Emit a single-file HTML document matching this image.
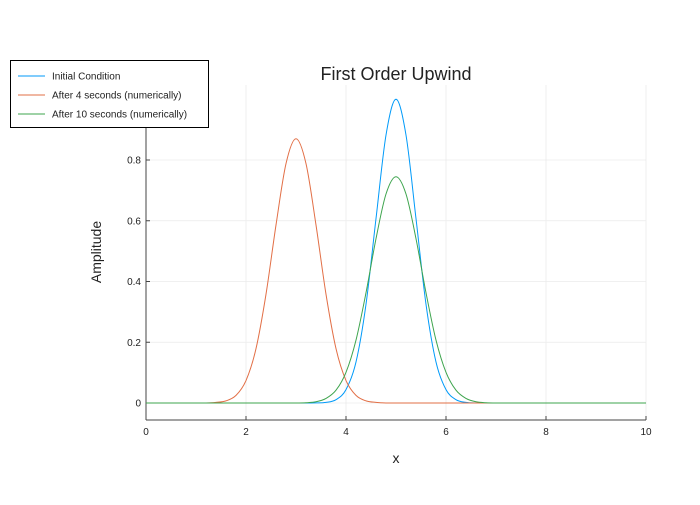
<!DOCTYPE html>
<html><head><meta charset="utf-8"><style>
body{margin:0;background:#fff;}
svg text{font-family:"Liberation Sans",sans-serif;}
</style></head><body>
<svg id="chart" width="700" height="500" xmlns="http://www.w3.org/2000/svg">
<rect width="700" height="500" fill="#fff"/>
<g id="grid"></g>
<g id="axes"></g>
<g id="series"></g>
<text x="396" y="80" font-size="18" text-anchor="middle" fill="#222">First Order Upwind</text>
<text x="0" y="0" font-size="14" text-anchor="middle" fill="#222" transform="translate(101,252) rotate(-90)">Amplitude</text>
<text x="396" y="463" font-size="14" text-anchor="middle" fill="#222">x</text>
<g>
<rect x="10.5" y="60.5" width="198" height="67" fill="#fff" stroke="#000" stroke-width="1"/>
<line x1="18" y1="76" x2="45" y2="76" stroke="#009af9"/>
<text x="52" y="79.5" font-size="10" fill="#222">Initial Condition</text>
<line x1="18" y1="95" x2="45" y2="95" stroke="#e26f46"/>
<text x="52" y="98.5" font-size="10" fill="#222">After 4 seconds (numerically)</text>
<line x1="18" y1="114" x2="45" y2="114" stroke="#3da44d"/>
<text x="52" y="117.5" font-size="10" fill="#222">After 10 seconds (numerically)</text>
</g>
</svg>
<script>
const xTicks=[0,2,4,6,8,10];
const yTicks=[0,0.2,0.4,0.6,0.8];
const xs=[0,0.2,0.4,0.6,0.8,1,1.2,1.4,1.6,1.8,2,2.2,2.4,2.6,2.8,3,3.2,3.4,3.6,3.8,4,4.2,4.4,4.6,4.8,5,5.2,5.4,5.6,5.8,6,6.2,6.4,6.6,6.8,7,7.2,7.4,7.6,7.8,8,8.2,8.4,8.6,8.8,9,9.2,9.4,9.6,9.8,10];
const initial=[0,0,0,0,0,0,0,0,0,0,0,0,0,0,0,0,0,0.0003,0.002,0.011,0.044,0.135,0.325,0.607,0.882,1,0.882,0.607,0.325,0.135,0.044,0.011,0.002,0.0003,0,0,0,0,0,0,0,0,0,0,0,0,0,0,0,0,0];
const after4=[0,0,0,0,0,0,0,0.002,0.007,0.025,0.074,0.179,0.358,0.586,0.788,0.87,0.788,0.586,0.358,0.179,0.074,0.025,0.007,0.002,0,0,0,0,0,0,0,0,0,0,0,0,0,0,0,0,0,0,0,0,0,0,0,0,0,0,0];
const after10=[0,0,0,0,0,0,0,0,0,0,0,0,0,0,0,0,0.001,0.004,0.015,0.042,0.101,0.207,0.363,0.541,0.688,0.745,0.688,0.541,0.363,0.207,0.101,0.042,0.015,0.004,0.001,0,0,0,0,0,0,0,0,0,0,0,0,0,0,0,0];
const NS='http://www.w3.org/2000/svg';
const X0=146,X1=646,Y0=403,YS=303.75,YT=85,YB=420;
const sx=v=>X0+(v-0)/(10-0)*(X1-X0);
const sy=v=>Y0-v*YS;
function mk(tag,attrs,parent){const e=document.createElementNS(NS,tag);for(const k in attrs)e.setAttribute(k,attrs[k]);parent.appendChild(e);return e;}
const grid=document.getElementById('grid'),axes=document.getElementById('axes'),ser=document.getElementById('series');
xTicks.forEach(t=>{
 const g=mk('line',{x1:sx(t),x2:sx(t),y1:YT,y2:YB,stroke:'#ebebeb','stroke-width':0.8},grid);
 
 
 const tk=mk('line',{x1:sx(t),x2:sx(t),y1:YB,y2:YB-4,stroke:'#444'},axes);
 
 
 const tx=mk('text',{x:sx(t),y:YB+15,'font-size':10,'text-anchor':'middle',fill:'#222'},axes);
 tx.textContent=t;
 
 
});
yTicks.forEach(t=>{
 const g=mk('line',{x1:X0,x2:X1,y1:sy(t),y2:sy(t),stroke:'#ebebeb','stroke-width':0.8},grid);
 
 
 const tk=mk('line',{x1:X0,x2:X0+4,y1:sy(t),y2:sy(t),stroke:'#444'},axes);
 
 
 const tx=mk('text',{x:X0-5,y:sy(t)+3.5,'font-size':10,'text-anchor':'end',fill:'#222'},axes);
 tx.textContent=t===0?'0':t.toFixed(1);
 
 
});
const xa=mk('line',{x1:X0,x2:X1,y1:YB,y2:YB,stroke:'#444'},axes);


const ya=mk('line',{x1:X0,x2:X0,y1:YT,y2:YB,stroke:'#444'},axes);


function pathFor(vals){
 const p=xs.map((x,i)=>[sx(x),sy(vals[i])]);
 let d='M'+p[0][0]+','+p[0][1];
 for(let i=0;i<p.length-1;i++){
  const a=p[Math.max(0,i-1)],b=p[i],c=p[i+1],e=p[Math.min(p.length-1,i+2)];
  const c1=[b[0]+(c[0]-a[0])/6,b[1]+(c[1]-a[1])/6],c2=[c[0]-(e[0]-b[0])/6,c[1]-(e[1]-b[1])/6];
  d+=' C'+c1[0].toFixed(2)+','+c1[1].toFixed(2)+' '+c2[0].toFixed(2)+','+c2[1].toFixed(2)+' '+c[0].toFixed(2)+','+c[1].toFixed(2);
 }
 return d;
}
const l1=mk('path',{d:pathFor(initial),fill:'none',stroke:'#009af9','stroke-width':1},ser);


const l2=mk('path',{d:pathFor(after4),fill:'none',stroke:'#e26f46','stroke-width':1},ser);


const l3=mk('path',{d:pathFor(after10),fill:'none',stroke:'#3da44d','stroke-width':1},ser);


</script>
</body></html>
